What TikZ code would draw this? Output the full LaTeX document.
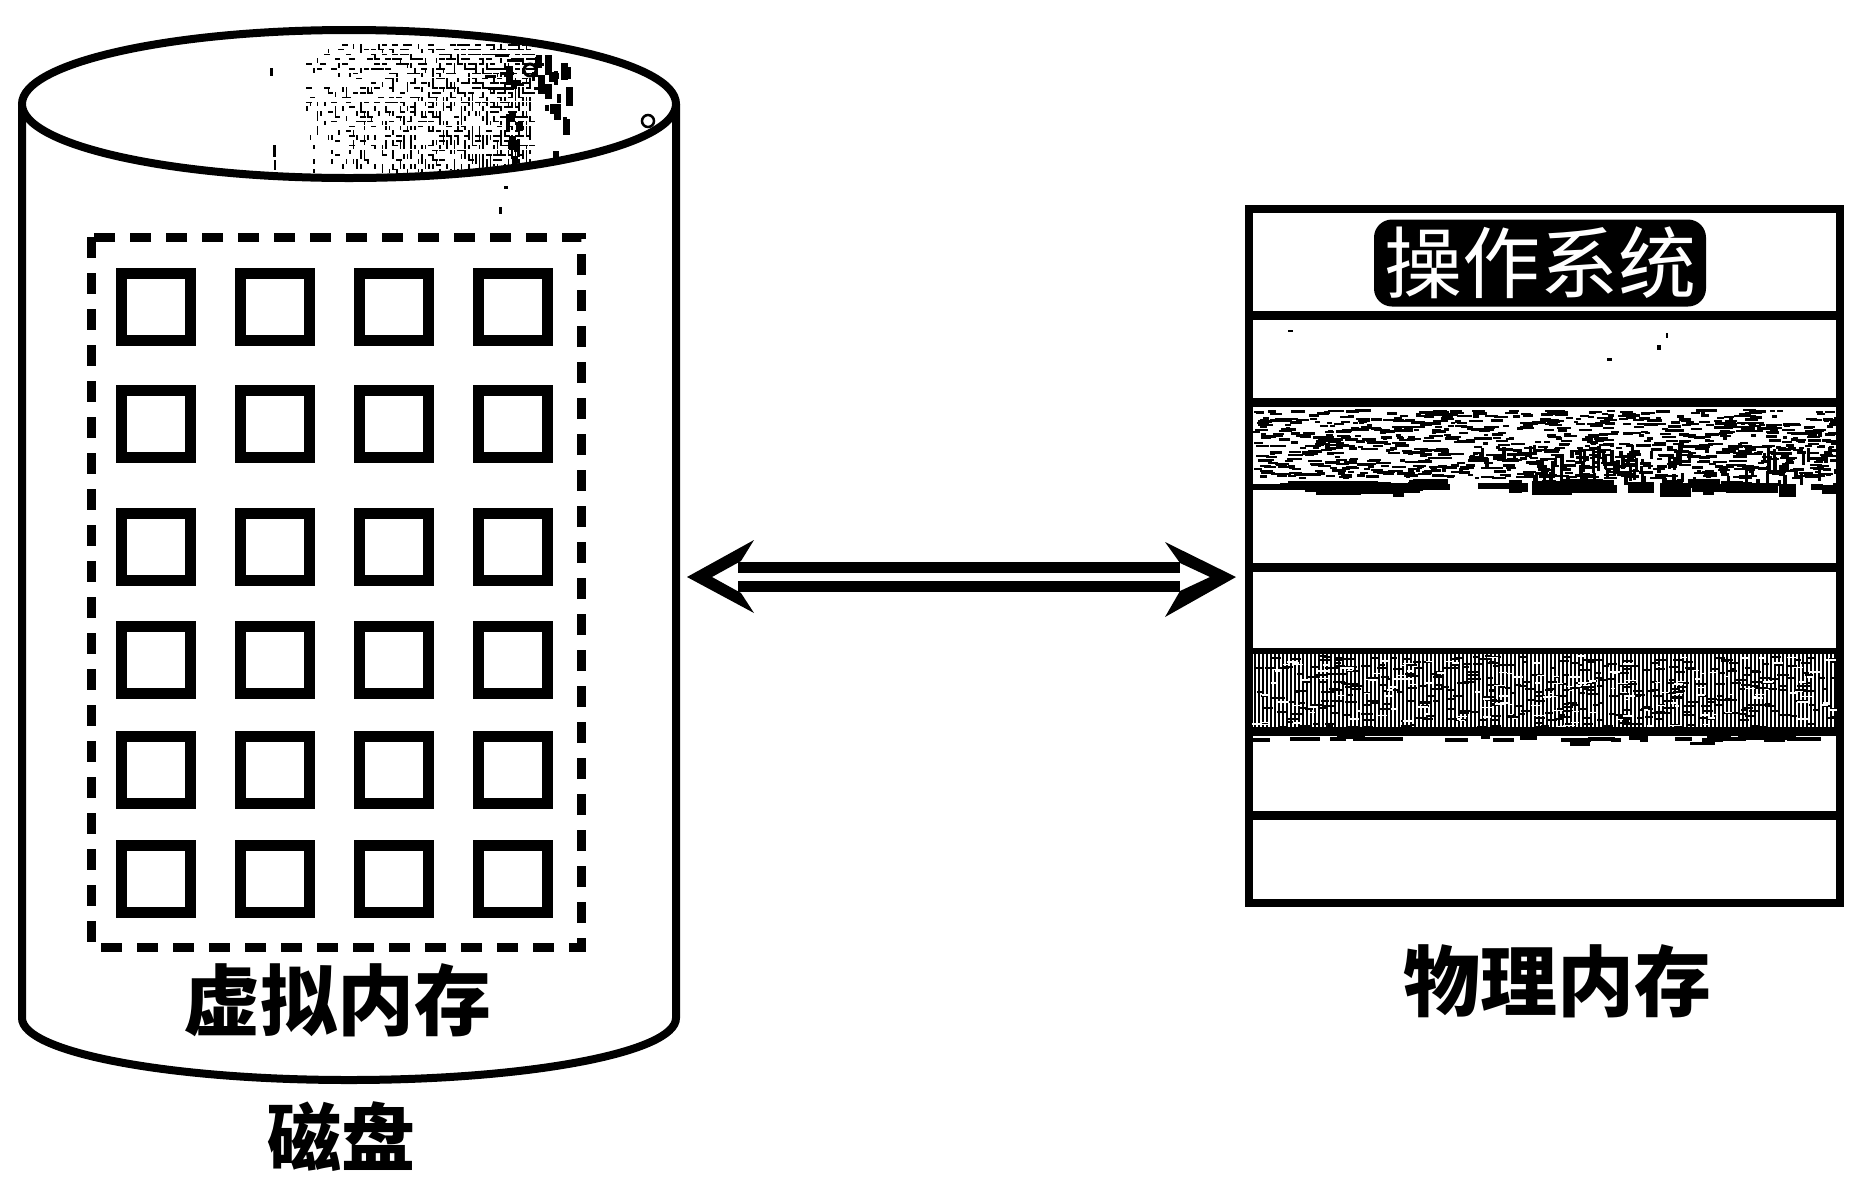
\documentclass[tikz,border=0pt]{standalone}
\usepackage{fontspec}
\setmainfont{Noto Sans CJK SC}
\begin{document}
\begin{tikzpicture}[x=1pt,y=-1pt,
  outl/.style={line width=8pt,draw=black},
  vmpage/.style={draw=black,line width=11pt,minimum width=69pt,minimum height=67pt,inner sep=0pt},
  label/.style={font=\fontsize{77}{77}\selectfont\bfseries,inner sep=0pt,text=black},
  memline/.style={line width=9pt,draw=black},
  conn/.style={line width=11pt,double=white,double distance=8pt,draw=black},
  arrowhd/.style={fill=black,draw=none}]
\useasboundingbox (0,0) rectangle (1857,1176);
\pgfmathsetseed{4711}
% cylinder
\draw[outl] (22,104) -- (22,1018) arc[start angle=180,end angle=360,x radius=327,y radius=-62] -- (676,104);
\draw[outl,fill=white] (349,104) ellipse[x radius=327,y radius=74];
\begin{scope}
\clip (349,104) ellipse[x radius=323,y radius=70];
% dithered texture: density grows to the right
\foreach \gx in {0,...,62}{
  \foreach \gy in {0,...,26}{
    \pgfmathsetmacro\px{306+\gx*3.6}
    \pgfmathsetmacro\py{44+\gy*4.8}
    \pgfmathsetmacro\pr{0.16+0.62*\gx/62}
    \pgfmathsetmacro\hit{rnd<\pr?1:0}
    \pgfmathsetmacro\vert{rnd<(0.25+0.65*\gy/26)?1:0}
    \ifdim\hit pt>0.5pt
      \ifdim\vert pt>0.5pt
        \fill (\px,\py) rectangle ++(1.6,4.6);
      \else
        \fill (\px,\py) rectangle ++(5.5,1.6);
      \fi
    \fi
  }
}
% blotchy edge of the texture
\foreach \i in {1,...,30}{
  \pgfmathsetmacro\px{505+62*rnd}
  \pgfmathsetmacro\py{50+120*rnd}
  \pgfmathsetmacro\ww{3+4*rnd}
  \pgfmathsetmacro\hh{6+16*rnd}
  \fill (\px,\py) rectangle ++(\ww,\hh);
}
\foreach \i in {1,...,10}{
  \pgfmathsetmacro\px{480+70*rnd}
  \pgfmathsetmacro\py{50+40*rnd}
  \pgfmathsetmacro\ww{10+8*rnd}
  \fill (\px,\py) rectangle ++(\ww,3);
}
\draw[line width=3pt] (530,70) circle[radius=6];
\draw[line width=2.5pt] (648,121) circle[radius=6];
\end{scope}
% specks
\fill (270,68) rectangle ++(3,8);
\fill (273,145) rectangle ++(3,12);
\fill (274,160) rectangle ++(2,10);
\fill (504,186) rectangle ++(4,3);
\fill (499,207) rectangle ++(3,7);
% dashed frame
\draw[line width=9pt,dash pattern=on 21pt off 15pt] (91,237) rectangle (581,947);
% pages
\foreach \r/\yy in {1/307,2/424,3/547,4/660,5/770,6/879}{
  \foreach \c/\xx in {1/156,2/275,3/394,4/513}{
    \node[vmpage] (p\r\c) at (\xx,\yy) {};
  }
}
% memory
\node[draw=black,line width=8pt,minimum width=591pt,minimum height=694pt,inner sep=0pt] (mem) at (1544.5,556) {};
\draw[memline] (mem.west |- 0,315) -- (mem.east |- 0,315);
\draw[memline] (mem.west |- 0,402) -- (mem.east |- 0,402);
\draw[memline] (mem.west |- 0,567) -- (mem.east |- 0,567);
\draw[memline,line width=6pt] (mem.west |- 0,651) -- (mem.east |- 0,651);
\draw[memline] (mem.west |- 0,815) -- (mem.east |- 0,815);
% noisy band
\begin{scope}
\clip (1252,407) rectangle (1837,500);
\foreach \i in {1,...,1000}{
  \pgfmathsetmacro\px{1252+585*rnd}
  \pgfmathsetmacro\py{409+68*rnd}
  \pgfmathsetmacro\ww{4+11*rnd}
  \fill (\px,\py) rectangle ++(\ww,2.4);
}
\foreach \i in {1,...,90}{
  \pgfmathsetmacro\px{1470+360*rnd}
  \pgfmathsetmacro\py{445+35*rnd}
  \pgfmathsetmacro\hh{6+10*rnd}
  \fill (\px,\py) rectangle ++(3.5,\hh);
}
\foreach \i in {1,...,42}{
  \pgfmathsetmacro\px{1252+585*rnd}
  \pgfmathsetmacro\py{479+6*rnd}
  \pgfmathsetmacro\ww{10+34*rnd}
  \pgfmathsetmacro\hh{5+9*rnd}
  \fill (\px,\py) rectangle ++(\ww,\hh);
}
\fill (1252,484) rectangle (1450,490);
\end{scope}
% hatched band
\begin{scope}
\clip (1252,652) rectangle (1837,732);
\foreach \i in {0,...,146}{
  \fill (1254+\i*4,652) rectangle ++(2.3,80);
}
\foreach \i in {1,...,420}{
  \pgfmathsetmacro\px{1252+580*rnd}
  \pgfmathsetmacro\py{655+72*rnd}
  \pgfmathsetmacro\ww{5+7*rnd}
  \fill (\px,\py) rectangle ++(\ww,2);
}
\foreach \i in {1,...,160}{
  \pgfmathsetmacro\px{1252+580*rnd}
  \pgfmathsetmacro\py{655+72*rnd}
  \pgfmathsetmacro\ww{4+8*rnd}
  \fill[white] (\px,\py) rectangle ++(\ww,1.5);
}
\end{scope}
\begin{scope}
\clip (1252,726) rectangle (1837,760);
\fill (1252,727) rectangle (1837,736);
\foreach \i in {1,...,26}{
  \pgfmathsetmacro\px{1252+570*rnd}
  \pgfmathsetmacro\py{735+3*rnd}
  \pgfmathsetmacro\ww{8+26*rnd}
  \fill (\px,\py) rectangle ++(\ww,4);
}
\fill (1570,740) rectangle ++(20,6);
\fill (1640,736) rectangle ++(8,6);
\fill (1690,742) rectangle ++(25,3);
\end{scope}
% specks
\fill (1288,330) rectangle ++(5,2);
\fill (1657,345) rectangle ++(4,5);
\fill (1607,358) rectangle ++(5,3);
\fill (1666,333) rectangle ++(1.5,5);
% arrow
\coordinate (aL) at (687,577);
\coordinate (aR) at (1236,577);
\draw[conn,shorten <=51pt,shorten >=56pt] (aL) -- (aR);
\fill[arrowhd] (aL) -- (754,540) -- (741,561) -- (712,577) -- (741,593) -- (754,613) -- cycle;
\fill[arrowhd] (aR) -- (1165,542) -- (1180,563) -- (1210,577) -- (1180,591) -- (1165,617) -- cycle;
% labels
\node[fill=black,rounded corners=18pt,text=white,font=\fontsize{78}{78}\selectfont,inner sep=0pt,minimum width=332pt,minimum height=87pt] (os) at (1540,263) {操作系统};
\node[label] (vm) at (337,1000) {虚拟内存};
\node[label] (pm) at (1557,981) {物理内存};
\node[label,font=\fontsize{74}{74}\selectfont\bfseries] (disk) at (341,1137) {磁盘};
\end{tikzpicture}
\end{document}
